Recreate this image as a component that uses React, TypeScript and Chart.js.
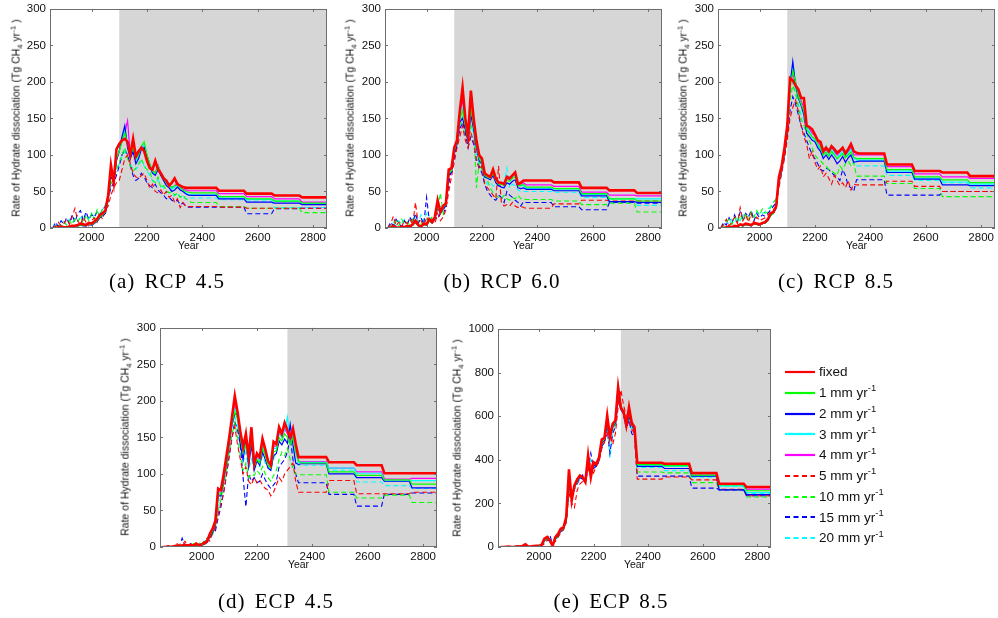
import React, { useEffect, useRef } from "react";
import { Chart, registerables } from "chart.js";

Chart.register(...registerables);

// ---- x grid (transient part) and plateau blocks ----
const YEARS = [
  1860, 1870, 1880, 1890, 1900, 1910, 1920, 1930, 1940, 1950,
  1960, 1970, 1980, 1990, 2000, 2010, 2020, 2030, 2040, 2050,
  2060, 2070, 2080, 2090, 2100, 2110, 2120, 2130, 2140, 2150,
  2160, 2170, 2180, 2190, 2200, 2210, 2220, 2230, 2240, 2250,
  2260, 2270, 2280, 2290, 2300, 2310, 2320, 2330, 2340, 2350,
];
const BLOCK_STARTS = [2360, 2460, 2560, 2660, 2760];
const BLOCK_ENDS = [2450, 2550, 2650, 2750, 2850];
const X_TICKS = [2000, 2200, 2400, 2600, 2800];

const LEGEND_LABELS = ["fixed", "1 mm yr", "2 mm yr", "3 mm yr", "4 mm yr", "5 mm yr", "10 mm yr", "15 mm yr", "20 mm yr"];

// each series: 50 values on YEARS, then 5 plateau values (BLOCK_STARTS..BLOCK_ENDS)
// (a) RCP 4.5
const A_FIXED = [0,0,1,2,1,1,2,3,3,4, 6,5,4,7,6,9,12,18,20,24, 45,86,62,108,115,120,122,118,100,122, 98,105,110,105,92,82,80,92,80,75, 68,65,58,62,68,60,58,56,55,55, 55,51,47,44.6,42];
const A_1MM = [0,0,0,1,1,1,1,2,2,3, 4,4,3,5,5,7,10,15,18,22, 40,75,65,95,105,118,130,115,100,110, 95,100,112,118,100,88,78,75,85,75, 70,62,60,55,58,60,55,52,50,49, 48,43,40,36.8,34];
const A_2MM = [0,0,0,1,1,1,1,2,2,3, 4,3,3,5,4,6,9,14,17,20, 38,72,62,92,105,125,140,110,95,105, 88,95,108,110,98,85,75,72,80,72, 65,58,55,50,52,56,52,50,47,45, 44.6,40,35.4,34,32];
const A_3MM = [0,0,0,1,1,1,1,2,2,3, 4,4,3,5,5,7,10,14,18,21, 39,74,64,94,106,122,135,112,98,108, 92,98,110,115,100,86,77,74,84,74, 68,60,58,53,56,58,54,51,48,46, 45.5,41,39,36.8,33];
const A_4MM = [0,0,0,1,1,1,1,2,2,3, 4,4,3,5,5,7,10,15,18,22, 40,75,64,95,106,120,130,147,100,110, 95,100,110,114,100,88,78,76,86,76, 70,62,60,55,58,62,56,53,52,51, 51,47,43,40,35.4];
const A_5MM = [0,2,8,3,6,12,5,15,27,10, 4,15,8,3,10,14,8,18,12,25, 30,45,55,62,65,80,95,100,88,75, 70,68,72,75,65,55,60,50,48,52, 45,50,42,45,35,40,28,35,30,29, 29.5,28.6,27,27,27];
const A_10MM = [0,3,6,2,8,4,10,5,12,8, 15,6,18,10,20,12,25,15,28,30, 45,60,70,80,90,100,110,95,85,78, 82,88,95,85,80,78,65,62,70,55, 58,52,48,50,45,48,42,45,40,38, 35,29.5,27,27,21];
const A_15MM = [0,8,2,10,5,14,6,18,8,20, 24,10,22,12,18,15,22,18,25,30, 40,55,62,72,85,100,108,100,85,72, 65,68,75,70,62,58,55,60,52,48, 45,40,42,38,36,38,32,34,30,28.6, 28.6,28.6,19.5,26.4,27];
const A_20MM = [0,4,7,3,9,5,12,7,14,9, 16,8,18,12,20,14,24,16,26,32, 42,58,68,78,88,98,105,98,88,80, 80,85,92,85,78,72,65,62,66,58, 55,50,48,46,44,48,42,45,40,40, 41,38.7,37,28,28];

// (b) RCP 6.0
const B_FIXED = [0,0,3,1,0,2,1,3,2,5, 10,4,2,6,5,12,8,15,38,22, 30,34,80,82,110,120,160,192,150,125, 188,150,120,100,95,75,72,70,80,68, 62,62,60,70,68,72,76,60,62,65, 65,62.5,55,51.5,48];
const B_1MM = [0,0,2,1,0,1,1,2,2,4, 8,3,2,5,4,10,7,13,30,20, 28,32,75,78,105,118,150,160,140,120, 165,140,115,95,90,72,70,68,75,65, 60,60,58,66,64,68,70,58,58,60, 56,54,47,40,37];
const B_2MM = [0,0,2,1,0,1,1,2,2,4, 8,3,2,5,4,10,7,12,28,20, 26,30,72,76,102,115,145,150,135,118, 155,135,110,92,88,70,68,66,72,62, 58,56,55,62,60,64,66,55,54,55, 53,51,44,36,35];
const B_3MM = [0,0,2,1,0,1,1,2,2,4, 8,3,2,5,4,10,7,13,30,20, 28,32,76,78,106,118,155,165,142,122, 168,142,116,96,90,72,70,68,76,66, 60,62,58,70,68,70,72,58,58,58, 54,52,46,40,40];
const B_4MM = [0,0,2,1,0,1,1,2,2,4, 9,3,2,5,4,11,7,14,32,21, 28,33,78,80,108,118,158,175,145,122, 170,145,118,98,92,73,71,69,78,66, 61,62,59,68,66,70,73,59,60,62, 59,57,49,45,44];
const B_5MM = [0,5,16,3,8,2,10,6,12,4, 35,5,10,3,15,8,12,6,20,10, 15,25,50,70,90,110,125,140,120,110, 130,120,95,80,85,60,55,50,45,40, 85,35,30,32,30,35,30,28,30,28, 27,33,38,37,37];
const B_10MM = [0,2,5,10,3,12,6,8,4,12, 6,10,5,8,12,6,15,20,25,48, 20,40,70,85,100,130,150,140,125,130, 138,145,55,90,80,70,65,55,48,45, 42,40,45,40,38,42,40,45,40,40, 39,37,32,34,22];
const B_15MM = [0,8,3,12,6,2,10,4,15,8, 20,6,14,5,42,10,8,15,12,20, 18,30,60,80,95,115,135,145,130,110, 125,115,90,85,75,60,50,45,40,38, 45,42,35,50,45,42,38,35,30,36, 35,29,25,35,34];
const B_20MM = [0,4,8,3,10,5,12,6,14,8, 16,7,18,9,20,12,15,18,25,30, 28,35,65,82,100,120,140,155,135,120, 140,130,100,88,80,65,60,62,58,55, 60,58,62,82,55,60,58,52,50,50, 50,49,42,35,31];

// (c) RCP 8.5
const C_FIXED = [0,0,1,2,1,3,2,5,4,6, 5,4,7,6,5,7,8,12,20,22, 30,70,85,110,140,205,202,195,190,178, 178,140,138,135,128,120,118,105,110,105, 112,108,103,106,110,102,108,115,105,103, 102,87,78,76,71];
const C_1MM = [0,0,1,1,1,2,2,4,3,5, 4,3,6,5,4,6,7,10,17,20, 28,65,82,105,135,190,215,200,180,170, 160,135,130,125,122,115,110,100,104,98, 105,100,95,98,102,96,100,104,97,95, 95,80,70,66,62];
const C_2MM = [0,0,1,1,1,2,2,4,3,5, 4,3,6,5,4,6,7,10,17,20, 27,64,80,104,133,195,228,195,178,168, 155,130,125,120,118,110,105,95,100,94, 100,95,88,92,98,90,96,100,90,91, 91.6,76,67,59,58];
const C_3MM = [0,0,1,1,1,2,2,4,3,5, 4,3,6,5,4,6,7,10,17,20, 28,66,82,106,136,198,225,198,182,170, 158,140,132,124,120,114,108,98,112,100, 108,102,94,100,106,98,102,108,96,93, 93,78,68,63,60];
const C_4MM = [0,0,1,1,1,2,2,4,3,5, 4,3,6,5,4,6,7,10,18,21, 29,67,83,107,137,200,210,200,185,174, 165,138,135,130,126,118,114,102,108,102, 110,105,100,104,108,100,104,110,100,100, 100,84,74,70,68];
const C_5MM = [0,5,12,3,8,15,6,28,10,18, 8,20,6,15,10,12,14,18,22,25, 30,55,75,95,120,150,165,175,160,140, 125,115,95,105,90,80,85,70,75,68, 60,72,65,58,62,55,65,52,60,59, 59,64,57,50,50];
const C_10MM = [0,3,8,12,5,15,8,18,10,20, 12,22,15,24,18,26,20,22,28,35, 40,60,80,100,130,175,195,185,165,150, 140,130,120,110,100,95,92,88,85,80, 78,75,72,85,80,88,92,85,90,71, 71,61,54,43,43];
const C_15MM = [0,8,4,14,6,18,8,22,12,20, 15,24,10,20,14,18,16,20,25,30, 35,58,78,98,125,160,180,170,155,140, 130,120,110,100,95,88,80,78,82,80, 76,72,70,65,80,72,58,55,50,66, 66,45,45,50,50];
const C_20MM = [0,4,10,5,12,8,15,10,18,12, 16,20,14,22,18,20,22,26,30,35, 40,62,82,102,135,180,200,185,170,155, 148,140,132,125,118,110,108,105,112,108, 100,102,98,100,104,96,100,98,88,85, 85,72,65,62,55];

// (d) ECP 4.5
const D_FIXED = [0,0,1,0,1,2,1,2,3,2, 3,2,4,3,3,5,8,18,25,36, 80,78,100,125,150,178,207,185,158,137, 155,123,164,114,128,123,148,134,118,112, 144,141,164,155,170,160,150,162,141,123, 123,116,112,101,101];
const D_1MM = [0,0,0,0,1,1,1,2,2,2, 3,2,3,3,3,4,7,15,22,32, 72,72,95,118,145,170,185,175,150,130, 140,118,150,110,120,115,135,125,112,108, 130,132,150,145,155,150,140,150,130,118, 115,103,98,92,86];
const D_2MM = [0,0,0,0,1,1,1,2,2,2, 3,2,3,3,3,4,6,14,20,30, 70,70,92,115,142,168,182,182,140,120, 145,110,140,105,118,112,130,120,108,105, 125,128,145,140,148,142,168,140,115,113, 114,100,95,90,81];
const D_3MM = [0,0,0,0,1,1,1,2,2,2, 3,2,3,3,3,4,7,15,22,33, 74,74,96,120,146,172,190,178,152,130, 148,118,152,112,122,118,138,128,115,110, 135,135,155,150,160,178,145,155,130,116, 116,108,101,90,91];
const D_4MM = [0,0,0,0,1,1,1,2,2,2, 3,2,3,3,3,4,7,16,23,34, 76,75,97,121,147,174,195,178,152,132, 150,120,155,113,124,118,140,130,116,110, 138,138,158,150,162,155,145,158,135,117, 117,108,103,93,94];
const D_5MM = [0,0,2,0,1,5,2,3,8,2, 4,2,6,3,4,8,12,8,20,25, 45,60,75,100,125,150,165,140,120,100, 110,90,85,95,88,92,85,80,78,70, 75,85,95,90,100,105,110,115,90,75, 75,91,73,73,75];
const D_10MM = [0,0,1,0,2,1,3,2,4,2, 3,5,3,6,4,7,10,14,18,28, 50,65,85,105,130,155,170,150,125,105, 115,95,100,98,105,100,110,100,95,90, 98,105,120,130,125,135,120,108,100,99, 99,75,67,71,61];
const D_15MM = [0,0,2,0,1,3,1,12,2,3, 5,2,4,3,5,6,10,12,18,22, 40,55,75,98,125,150,172,160,140,95, 55,100,90,95,88,90,100,92,85,80, 85,90,110,115,120,130,150,120,100,88, 88,72,56,72,74];
const D_20MM = [0,0,1,0,2,1,2,3,3,2, 4,3,5,4,5,8,12,16,22,32, 55,70,90,110,140,165,180,165,140,115, 130,105,120,108,112,110,125,115,110,105, 120,130,145,150,165,175,140,130,118,112, 112,105,89,84,80];

// (e) ECP 8.5
const E_FIXED = [0,0,1,2,0,1,3,2,5,12, 3,2,4,5,5,10,38,46,30,5, 45,60,84,90,137,356,214,282,310,328, 320,298,420,320,389,380,410,493,500,603, 504,565,580,733,638,620,557,641,570,550, 386,382,339,290,275];
const E_1MM = [0,0,1,1,0,1,2,2,4,8, 3,2,3,4,4,8,30,40,28,8, 40,55,78,88,130,300,230,280,305,325, 318,300,400,330,380,378,405,480,495,580, 510,555,575,700,640,615,560,620,565,540, 378,373,330,285,258];
const E_2MM = [0,0,1,1,0,1,2,2,4,8, 3,2,3,4,4,8,28,38,25,6, 38,52,75,85,125,280,240,275,300,318, 312,295,390,335,375,372,400,475,490,570, 500,550,570,690,630,610,555,600,560,530, 370,360,325,262,240];
const E_3MM = [0,0,1,1,0,1,2,2,4,8, 3,2,3,4,4,8,30,40,28,7, 40,54,76,87,128,290,235,278,302,322, 315,298,395,332,378,375,402,478,492,575, 505,552,572,695,635,612,558,610,562,535, 375,370,325,280,250];
const E_4MM = [0,0,1,1,0,1,2,2,4,8, 3,2,3,4,4,8,32,42,28,8, 42,56,80,88,132,310,225,280,306,326, 318,300,405,328,382,378,408,485,498,590, 505,560,578,715,640,618,558,630,568,545, 380,378,335,288,265];
const E_5MM = [0,0,2,0,1,3,1,2,5,8, 2,1,3,5,3,6,15,30,35,20, 25,45,65,80,110,250,200,180,260,290, 300,310,350,380,340,370,390,450,480,520, 540,470,520,640,720,650,600,580,540,520, 311,321,308,265,235];
const E_10MM = [0,0,1,2,0,2,1,3,4,6, 2,3,2,4,5,8,20,35,30,12, 30,50,72,82,115,270,240,270,295,315, 320,300,380,340,370,378,400,470,490,560, 500,540,560,680,660,610,560,600,570,520, 344,340,295,263,229];
const E_15MM = [0,0,1,0,2,1,2,3,3,5, 2,1,3,3,4,6,25,45,55,10, 35,48,70,80,120,260,230,265,290,310, 330,295,360,430,360,370,395,460,480,540, 430,520,550,670,650,605,545,580,520,510, 325,325,270,262,235];
const E_20MM = [0,0,1,1,0,2,1,2,3,6, 2,2,3,4,4,7,22,38,40,10, 35,50,72,82,118,265,235,272,296,318, 320,298,375,400,365,372,398,465,488,550, 410,530,565,760,655,612,550,590,540,525, 365,350,320,278,245];

// ---- styles ----
const SERIES_STYLE = [
  { color: "#ff0000", width: 2.6, dash: false, sup: false },
  { color: "#00ff00", width: 1.2, dash: false, sup: true },
  { color: "#0000ff", width: 1.2, dash: false, sup: true },
  { color: "#00ffff", width: 1.2, dash: false, sup: true },
  { color: "#ff00ff", width: 1.2, dash: false, sup: true },
  { color: "#ff0000", width: 1.1, dash: true, sup: true },
  { color: "#00ff00", width: 1.1, dash: true, sup: true },
  { color: "#0000ff", width: 1.1, dash: true, sup: true },
  { color: "#00ffff", width: 1.1, dash: true, sup: true },
];

const SANS = '"Liberation Sans", Arial, Helvetica, sans-serif';
const SERIF = '"Liberation Serif", "Times New Roman", serif';
const TEXT = "#111";

const Y_AXIS_W = 45;
const PAD_T = 10;
const PAD_R = 8;
const X_AXIS_H = 18;

type PanelDef = {
  key: string; left: number; top: number; w: number; h: number; shade: number;
  yMax: number; yStep: number; series: number[][];
  caption: string; capX: number; capY: number; yLabelX: number;
};

const PANELS: PanelDef[] = [
  { key: "a", left: 50, top: 8, w: 277, h: 220, shade: 2100, yMax: 300, yStep: 50,
    series: [A_FIXED, A_1MM, A_2MM, A_3MM, A_4MM, A_5MM, A_10MM, A_15MM, A_20MM],
    caption: "(a) RCP 4.5", capX: 167, capY: 281, yLabelX: 16 },
  { key: "b", left: 385, top: 8, w: 277, h: 220, shade: 2100, yMax: 300, yStep: 50,
    series: [B_FIXED, B_1MM, B_2MM, B_3MM, B_4MM, B_5MM, B_10MM, B_15MM, B_20MM],
    caption: "(b) RCP 6.0", capX: 502, capY: 281, yLabelX: 350 },
  { key: "c", left: 718, top: 8, w: 277, h: 220, shade: 2100, yMax: 300, yStep: 50,
    series: [C_FIXED, C_1MM, C_2MM, C_3MM, C_4MM, C_5MM, C_10MM, C_15MM, C_20MM],
    caption: "(c) RCP 8.5", capX: 836, capY: 281, yLabelX: 683 },
  { key: "d", left: 160, top: 327, w: 277, h: 220, shade: 2310, yMax: 300, yStep: 50,
    series: [D_FIXED, D_1MM, D_2MM, D_3MM, D_4MM, D_5MM, D_10MM, D_15MM, D_20MM],
    caption: "(d) ECP 4.5", capX: 276, capY: 601, yLabelX: 125 },
  { key: "e", left: 498, top: 328, w: 273, h: 219, shade: 2300, yMax: 1000, yStep: 200,
    series: [E_FIXED, E_1MM, E_2MM, E_3MM, E_4MM, E_5MM, E_10MM, E_15MM, E_20MM],
    caption: "(e) ECP 8.5", capX: 611, capY: 601, yLabelX: 457 },
];

function buildPoints(vals: number[]) {
  const pts = YEARS.map((x, i) => ({ x, y: vals[i] }));
  BLOCK_STARTS.forEach((s, k) => {
    pts.push({ x: s, y: vals[YEARS.length + k] });
    pts.push({ x: BLOCK_ENDS[k], y: vals[YEARS.length + k] });
  });
  return pts;
}

function decorPlugin(shadeFrom: number) {
  return {
    id: "decor",
    beforeDatasetsDraw(chart: any) {
      const { ctx, chartArea: ca, scales } = chart;
      const xs = Math.max(scales.x.getPixelForValue(shadeFrom), ca.left);
      ctx.save();
      ctx.fillStyle = "#d6d6d6";
      ctx.fillRect(xs, ca.top, ca.right - xs, ca.bottom - ca.top);
      ctx.restore();
    },
    afterDatasetsDraw(chart: any) {
      const { ctx, chartArea: ca, scales } = chart;
      ctx.save();
      ctx.strokeStyle = "#6e6e6e";
      ctx.lineWidth = 1;
      ctx.strokeRect(Math.round(ca.left) + 0.5, Math.round(ca.top) + 0.5,
        Math.round(ca.right - ca.left) - 1, Math.round(ca.bottom - ca.top) - 1);
      const L = 3;
      ctx.beginPath();
      scales.x.ticks.forEach((t: any) => {
        const px = Math.round(scales.x.getPixelForValue(t.value)) + 0.5;
        ctx.moveTo(px, ca.bottom); ctx.lineTo(px, ca.bottom - L);
        ctx.moveTo(px, ca.top); ctx.lineTo(px, ca.top + L);
      });
      scales.y.ticks.forEach((t: any) => {
        const py = Math.round(scales.y.getPixelForValue(t.value)) + 0.5;
        ctx.moveTo(ca.left, py); ctx.lineTo(ca.left + L, py);
        ctx.moveTo(ca.right, py); ctx.lineTo(ca.right - L, py);
      });
      ctx.stroke();
      ctx.restore();
    },
  };
}

function Panel({ p }: { p: PanelDef }) {
  const ref = useRef<HTMLCanvasElement>(null);
  const cw = Y_AXIS_W + p.w + PAD_R;
  const ch = PAD_T + p.h + X_AXIS_H;
  useEffect(() => {
    const chart = new Chart(ref.current as HTMLCanvasElement, {
      type: "line",
      data: {
        datasets: SERIES_STYLE.map((s, i) => ({
          label: LEGEND_LABELS[i],
          data: buildPoints(p.series[i]),
          borderColor: s.color,
          backgroundColor: s.color,
          borderWidth: s.width,
          borderDash: s.dash ? [5, 3] : [],
          pointRadius: 0,
          tension: 0,
          fill: false,
        })),
      },
      options: {
        animation: false,
        responsive: false,
        devicePixelRatio: 1,
        events: [],
        layout: { padding: { left: 0, top: PAD_T, right: PAD_R, bottom: 0 } },
        plugins: { legend: { display: false }, tooltip: { enabled: false } },
        scales: {
          x: {
            type: "linear", min: 1850, max: 2850,
            grid: { display: false, drawTicks: false }, border: { display: false },
            afterBuildTicks: (s: any) => { s.ticks = X_TICKS.map((v) => ({ value: v })); },
            afterFit: (s: any) => { s.height = X_AXIS_H; },
            ticks: { padding: 3, maxRotation: 0, autoSkip: false, color: TEXT,
              font: { family: SANS, size: 11.5 }, callback: (v: any) => String(v) },
          },
          y: {
            type: "linear", min: 0, max: p.yMax,
            grid: { display: false, drawTicks: false }, border: { display: false },
            afterFit: (s: any) => { s.width = Y_AXIS_W; },
            ticks: { stepSize: p.yStep, padding: 4, color: TEXT,
              font: { family: SANS, size: 11.5 }, callback: (v: any) => String(v) },
          },
        },
      } as any,
      plugins: [decorPlugin(p.shade)],
    });
    return () => chart.destroy();
  }, []);
  const cy = p.top + p.h / 2;
  return (
    <>
      <canvas ref={ref} width={cw} height={ch}
        style={{ position: "absolute", left: p.left - Y_AXIS_W, top: p.top - PAD_T, width: cw, height: ch }} />
      <div style={{ position: "absolute", left: p.yLabelX, top: cy, transform: "translate(-50%,-50%) rotate(-90deg)",
        whiteSpace: "nowrap", font: `10.5px ${SANS}`, color: TEXT, lineHeight: 1 }}>
        Rate of Hydrate dissociation (Tg CH
        <span style={{ fontSize: "0.75em", position: "relative", top: "0.35em" }}>4</span>
        {" yr"}
        <span style={{ fontSize: "0.75em", position: "relative", top: "-0.5em" }}>-1</span>
        {"  )"}
      </div>
      <div style={{ position: "absolute", left: p.left + p.w / 2, top: p.top + p.h + 17,
        transform: "translate(-50%,-50%)", font: `10.5px ${SANS}`, color: TEXT, whiteSpace: "nowrap" }}>Year</div>
      <div style={{ position: "absolute", left: p.capX, top: p.capY, transform: "translate(-50%,-50%)",
        font: `21px ${SERIF}`, color: "#000", whiteSpace: "nowrap", letterSpacing: "1px", wordSpacing: "3px" }}>{p.caption}</div>
    </>
  );
}

function Legend() {
  return (
    <>
      {SERIES_STYLE.map((s, i) => (
        <div key={i} style={{ position: "absolute", left: 785, top: 372 + i * 20.75 - 10, height: 20,
          display: "flex", alignItems: "center", whiteSpace: "nowrap" }}>
          <svg width="30" height="6" style={{ display: "block" }}>
            <line x1="0" y1="3" x2="30" y2="3" stroke={s.color} strokeWidth={2.2}
              strokeDasharray={s.dash ? "5 3.5" : undefined} />
          </svg>
          <span style={{ marginLeft: 4, font: `13.5px ${SANS}`, color: TEXT, lineHeight: 1 }}>
            {LEGEND_LABELS[i]}
            {s.sup ? <span style={{ fontSize: "0.7em", position: "relative", top: "-0.6em" }}>-1</span> : null}
          </span>
        </div>
      ))}
    </>
  );
}

export default function App() {
  return (
    <div style={{ position: "absolute", left: 0, top: 0, width: 998, height: 618, background: "#fff", overflow: "hidden" }}>
      {PANELS.map((p) => <Panel key={p.key} p={p} />)}
      <Legend />
    </div>
  );
}
